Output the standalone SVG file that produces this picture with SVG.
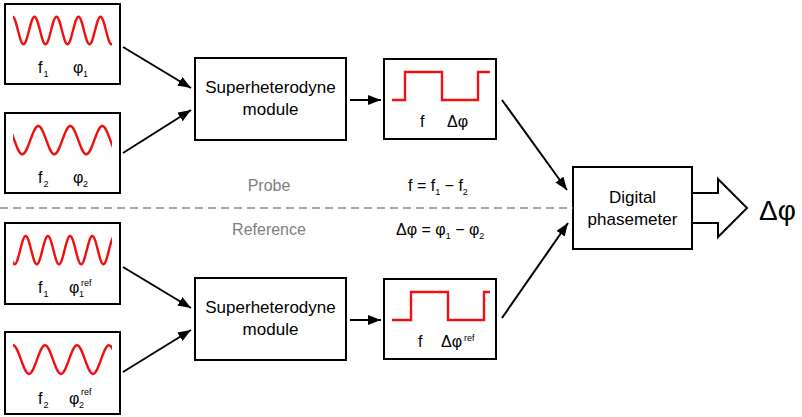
<svg xmlns="http://www.w3.org/2000/svg" width="802" height="417" viewBox="0 0 802 417">
<style>
.box{fill:#fff;stroke:#000;stroke-width:2}
.wave{fill:none;stroke:#f01010;stroke-width:2.4}
.t{font-family:"Liberation Sans",Arial,sans-serif;font-size:16px;fill:#000}
.m{font-size:17px}
.s{font-size:9px}
.g{fill:#808080}
.c{stroke:#000;stroke-width:2;fill:none;marker-end:url(#ah)}
</style>
<defs>
<marker id="ah" markerUnits="userSpaceOnUse" markerWidth="14" markerHeight="11" refX="13" refY="5" orient="auto">
<path d="M0,0 L13,5 L0,10 z" fill="#000"/>
</marker>
<clipPath id="wc" clipPathUnits="userSpaceOnUse"><rect x="13" y="0" width="99" height="417"/></clipPath>
</defs>

<g id="src1">
<rect class="box" x="5" y="4" width="115" height="80"/>
<path class="wave" clip-path="url(#wc)" d="M12.5,16.7 c4,0 7,27.6 11,27.6 s7,-27.6 11,-27.6 s7,27.6 11,27.6 s7,-27.6 11,-27.6 s7,27.6 11,27.6 s7,-27.6 11,-27.6 s7,27.6 11,27.6 s7,-27.6 11,-27.6 s7,27.6 11,27.6 s7,-27.6 11,-27.6"/>
<text class="t" x="38" y="73">f</text><text class="t s" x="43.5" y="77">1</text>
<text class="t" x="73" y="73">φ</text><text class="t s" x="83" y="77">1</text>
</g>

<g id="src2">
<rect class="box" x="5" y="113" width="115" height="80"/>
<path class="wave" clip-path="url(#wc)" d="M6.3,126 c5.83,0 10.17,28.3 16,28.3 s10.17,-28.3 16,-28.3 s10.17,28.3 16,28.3 s10.17,-28.3 16,-28.3 s10.17,28.3 16,28.3 s10.17,-28.3 16,-28.3 s10.17,28.3 16,28.3"/>
<text class="t" x="38" y="183">f</text><text class="t s" x="43.5" y="187">2</text>
<text class="t" x="73" y="183">φ</text><text class="t s" x="83" y="187">2</text>
</g>

<g id="src3">
<rect class="box" x="5" y="223" width="115" height="81"/>
<path class="wave" clip-path="url(#wc)" d="M3.5,236 c4.04,0 7.06,28.3 11.1,28.3 s7.06,-28.3 11.1,-28.3 s7.06,28.3 11.1,28.3 s7.06,-28.3 11.1,-28.3 s7.06,28.3 11.1,28.3 s7.06,-28.3 11.1,-28.3 s7.06,28.3 11.1,28.3 s7.06,-28.3 11.1,-28.3 s7.06,28.3 11.1,28.3 s7.06,-28.3 11.1,-28.3"/>
<text class="t" x="38" y="293">f</text><text class="t s" x="43.5" y="297">1</text>
<text class="t" x="69" y="293">φ</text><text class="t s" x="79" y="297">1</text><text class="t s" x="81" y="286">ref</text>
</g>

<g id="src4">
<rect class="box" x="5" y="332" width="115" height="82"/>
<path class="wave" clip-path="url(#wc)" d="M13,345.3 c5.83,0 10.17,28.7 16,28.7 s10.17,-28.7 16,-28.7 s10.17,28.7 16,28.7 s10.17,-28.7 16,-28.7 s10.17,28.7 16,28.7 s10.17,-28.7 16,-28.7 s10.17,28.7 16,28.7"/>
<text class="t" x="38" y="404">f</text><text class="t s" x="43.5" y="408">2</text>
<text class="t" x="69" y="404">φ</text><text class="t s" x="79" y="408">2</text><text class="t s" x="81" y="395">ref</text>
</g>

<g id="mix1">
<rect class="box" x="195" y="58" width="151" height="82"/>
<text class="t m" x="270.5" y="93" text-anchor="middle">Superheterodyne</text>
<text class="t m" x="270.5" y="115" text-anchor="middle">module</text>
</g>

<g id="mix2">
<rect class="box" x="195" y="278" width="151" height="82"/>
<text class="t m" x="270.5" y="313" text-anchor="middle">Superheterodyne</text>
<text class="t m" x="270.5" y="335" text-anchor="middle">module</text>
</g>

<g id="sq1">
<rect class="box" x="384" y="59" width="112" height="80"/>
<path class="wave" d="M392,100 H405 V72 H442 V100 H478 V72 H490"/>
<text class="t" x="420" y="127">f</text>
<text class="t" x="447" y="127">Δφ</text>
</g>

<g id="sq2">
<rect class="box" x="384" y="279" width="112" height="80"/>
<path class="wave" d="M392,320 H411 V292 H448 V320 H484 V292 H490"/>
<text class="t" x="418" y="347">f</text>
<text class="t" x="441" y="347">Δφ</text><text class="t s" x="464" y="341">ref</text>
</g>

<g id="phasemeter">
<rect class="box" x="573" y="167" width="119" height="82"/>
<text class="t m" x="632.5" y="203" text-anchor="middle">Digital</text>
<text class="t m" x="632.5" y="225" text-anchor="middle">phasemeter</text>
</g>

<g id="output">
<polygon points="692,193 718,193 718,179 747,208 718,237 718,223 692,223" fill="#fff" stroke="#000" stroke-width="2" stroke-linejoin="miter"/>
<text class="t" x="759" y="220" style="font-size:28px">Δφ</text>
</g>

<g id="labels">
<line x1="0" y1="208" x2="573" y2="208" stroke="#8a8a8a" stroke-width="1.3" stroke-dasharray="8,5"/>
<text class="t g" x="269" y="191" text-anchor="middle">Probe</text>
<text class="t g" x="269" y="235" text-anchor="middle">Reference</text>
<text class="t" x="408" y="191">f = f<tspan class="s" dy="4">1</tspan><tspan dy="-4"> − f</tspan><tspan class="s" dy="4">2</tspan></text>
<text class="t" x="396" y="235">Δφ = φ<tspan class="s" dy="4">1</tspan><tspan dy="-4"> − φ</tspan><tspan class="s" dy="4">2</tspan></text>
</g>

<g id="connectors">
<line class="c" x1="123" y1="47" x2="191" y2="88"/>
<line class="c" x1="123" y1="153" x2="191" y2="110"/>
<line class="c" x1="123" y1="267" x2="191" y2="308"/>
<line class="c" x1="123" y1="372" x2="191" y2="330"/>
<line class="c" x1="350" y1="100" x2="381" y2="100"/>
<line class="c" x1="350" y1="320" x2="381" y2="320"/>
<line class="c" x1="502" y1="100" x2="567" y2="190"/>
<line class="c" x1="502" y1="318" x2="568" y2="223"/>
</g>
</svg>
